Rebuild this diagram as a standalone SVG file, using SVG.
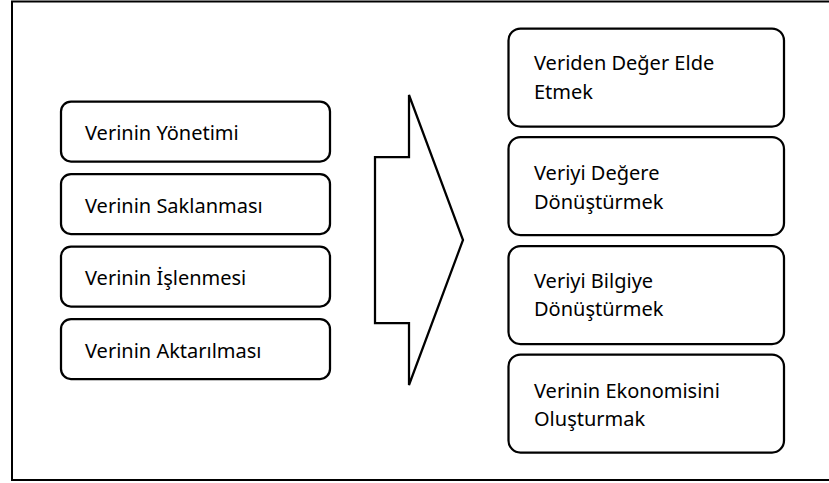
<svg xmlns="http://www.w3.org/2000/svg" width="829" height="483" viewBox="0 0 829 483">
<style>
.box{fill:#fff;stroke:#000;stroke-width:2.25}
.t{font-family:"Noto Sans","Open Sans","Liberation Sans",sans-serif;font-size:20px;fill:#000}
</style>
<rect x="0" y="0" width="829" height="483" fill="#fff"/>
<rect x="12" y="1.5" width="830" height="478.5" fill="none" stroke="#000" stroke-width="2"/>
<g id="left-1"><rect class="box" x="61" y="101.5" width="269" height="60" rx="10"/><text class="t" x="85" y="140">Verinin Yönetimi</text></g>
<g id="left-2"><rect class="box" x="61" y="174" width="269" height="60" rx="10"/><text class="t" x="85" y="212.5">Verinin Saklanması</text></g>
<g id="left-3"><rect class="box" x="61" y="246.5" width="269" height="60" rx="10"/><text class="t" x="85" y="285">Verinin İşlenmesi</text></g>
<g id="left-4"><rect class="box" x="61" y="319" width="269" height="60" rx="10"/><text class="t" x="85" y="357.5">Verinin Aktarılması</text></g>
<g id="connectors"><polygon points="409,95 463,240 409,385 409,323 375,323 375,157 409,157" fill="#fff" stroke="#000" stroke-width="2.25" stroke-linejoin="miter"/></g>
<g id="right-1"><rect class="box" x="508.5" y="28.5" width="275.5" height="98" rx="12"/><text class="t" x="534" y="70">Veriden Değer Elde</text><text class="t" x="534" y="99">Etmek</text></g>
<g id="right-2"><rect class="box" x="508.5" y="137" width="275.5" height="98" rx="12"/><text class="t" x="534" y="180">Veriyi Değere</text><text class="t" x="534" y="208.5">Dönüştürmek</text></g>
<g id="right-3"><rect class="box" x="508.5" y="246" width="275.5" height="98" rx="12"/><text class="t" x="534" y="287.5">Veriyi Bilgiye</text><text class="t" x="534" y="316">Dönüştürmek</text></g>
<g id="right-4"><rect class="box" x="508.5" y="354.5" width="275.5" height="98" rx="12"/><text class="t" x="534" y="397.5">Verinin Ekonomisini</text><text class="t" x="534" y="426">Oluşturmak</text></g>
</svg>
